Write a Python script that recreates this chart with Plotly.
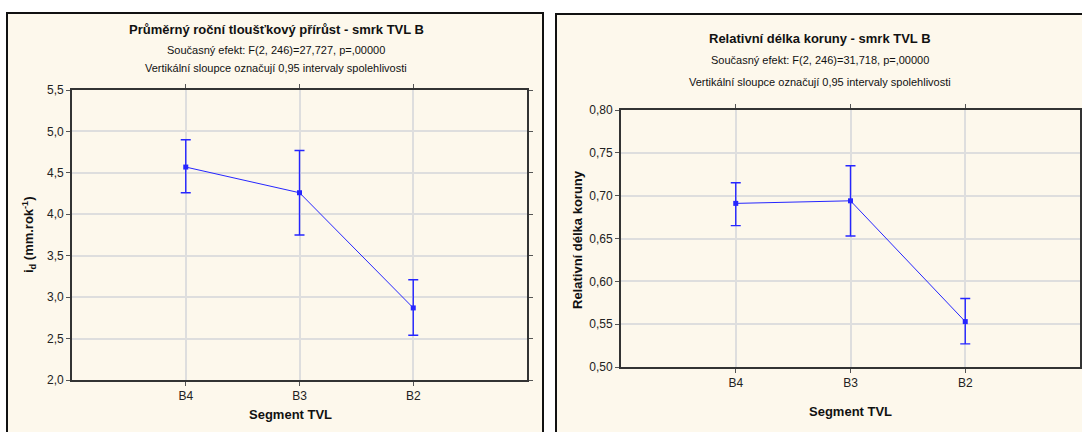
import plotly.graph_objects as go

# ---- data ----
segments = ["B4", "B3", "B2"]
seg_pos = [1, 2, 3]

id_mean = [4.57, 4.26, 2.87]
id_upper = [4.90, 4.77, 3.21]
id_lower = [4.26, 3.75, 2.54]

rdk_mean = [0.691, 0.694, 0.553]
rdk_upper = [0.715, 0.735, 0.580]
rdk_lower = [0.665, 0.653, 0.527]

left_yticks = [2.0, 2.5, 3.0, 3.5, 4.0, 4.5, 5.0, 5.5]
right_yticks = [0.50, 0.55, 0.60, 0.65, 0.70, 0.75, 0.80]

W, H = 1082, 432
def px(x):
    return x / W
def py(y):
    return 1 - y / H

BLUE = "#2626ff"
PANEL = "#fdf8ec"
FONT = "Liberation Sans, Arial, sans-serif"

fig = go.Figure()

def add_series(mean, up, lo, xa, ya):
    fig.add_trace(go.Scatter(
        x=seg_pos, y=mean, xaxis=xa, yaxis=ya, mode="lines+markers",
        line=dict(color=BLUE, width=1),
        marker=dict(symbol="square", size=5, color=BLUE),
        error_y=dict(type="data", symmetric=False,
                     array=[u - m for u, m in zip(up, mean)],
                     arrayminus=[m - l for m, l in zip(mean, lo)],
                     color=BLUE, thickness=1.4, width=5),
        showlegend=False, hoverinfo="skip"))

add_series(id_mean, id_upper, id_lower, "x", "y")
add_series(rdk_mean, rdk_upper, rdk_lower, "x2", "y2")

axis_common = dict(
    showline=True, linecolor="#333333", linewidth=1.8, mirror="ticks",
    ticks="outside", ticklen=4, tickcolor="#555555",
    showgrid=True, gridcolor="#dedede", gridwidth=1.5, zeroline=False,
    automargin=False,
    tickfont=dict(family=FONT, size=12, color="#222222"),
)

fig.update_layout(
    width=W, height=H, autosize=False, margin=dict(l=0, r=0, t=0, b=0, pad=0),
    paper_bgcolor="white", plot_bgcolor="white",
    separators=", ",
    font=dict(family=FONT, color="#111111"),
    xaxis=dict(domain=[px(72), px(527)], range=[0, 4], anchor="y",
               tickvals=seg_pos, ticktext=segments, **axis_common),
    yaxis=dict(domain=[py(380), py(90)], range=[2.0, 5.5], anchor="x",
               tickvals=left_yticks, tickformat=".1f", **axis_common),
    xaxis2=dict(domain=[px(621), px(1080)], range=[0, 4], anchor="y2",
                tickvals=seg_pos, ticktext=segments, **axis_common),
    yaxis2=dict(domain=[py(367), py(110)], range=[0.50, 0.80], anchor="x2",
                tickvals=right_yticks, tickformat=".2f", **axis_common),
)

# panel backgrounds
fig.add_shape(type="rect", xref="paper", yref="paper", layer="below",
              x0=px(7), x1=px(543), y0=py(440), y1=py(13),
              fillcolor=PANEL, line=dict(color="#111111", width=2))
fig.add_shape(type="rect", xref="paper", yref="paper", layer="below",
              x0=px(556), x1=px(1090), y0=py(440), y1=py(14),
              fillcolor=PANEL, line=dict(color="#111111", width=2))

def text(x, y, s, size, bold=False, angle=0):
    fig.add_annotation(xref="paper", yref="paper", x=px(x), y=py(y),
                       text=f"<b>{s}</b>" if bold else s, showarrow=False,
                       textangle=angle, xanchor="center", yanchor="middle",
                       font=dict(family=FONT, size=size, color="#111111"))

# left panel texts
text(276, 30, "Průměrný roční tloušťkový přírůst - smrk TVL B", 13, True)
text(276, 50, "Současný efekt: F(2, 246)=27,727, p=,00000", 11)
text(276, 68, "Vertikální sloupce označují 0,95 intervaly spolehlivosti", 11)
text(29, 235, "i<sub>d</sub> (mm.rok<sup>-1</sup>)", 13, True, -90)
text(290, 414, "Segment TVL", 13, True)

# right panel texts
text(820, 38, "Relativní délka koruny - smrk TVL B", 13, True)
text(820, 60, "Současný efekt: F(2, 246)=31,718, p=,00000", 11)
text(820, 82, "Vertikální sloupce označují 0,95 intervaly spolehlivosti", 11)
text(577, 240, "Relativní délka koruny", 13, True, -90)
text(850, 411, "Segment TVL", 13, True)

fig.write_html("out.html", config={"displayModeBar": False},
               post_script="document.body.style.margin='0';document.body.style.overflow='hidden';")
